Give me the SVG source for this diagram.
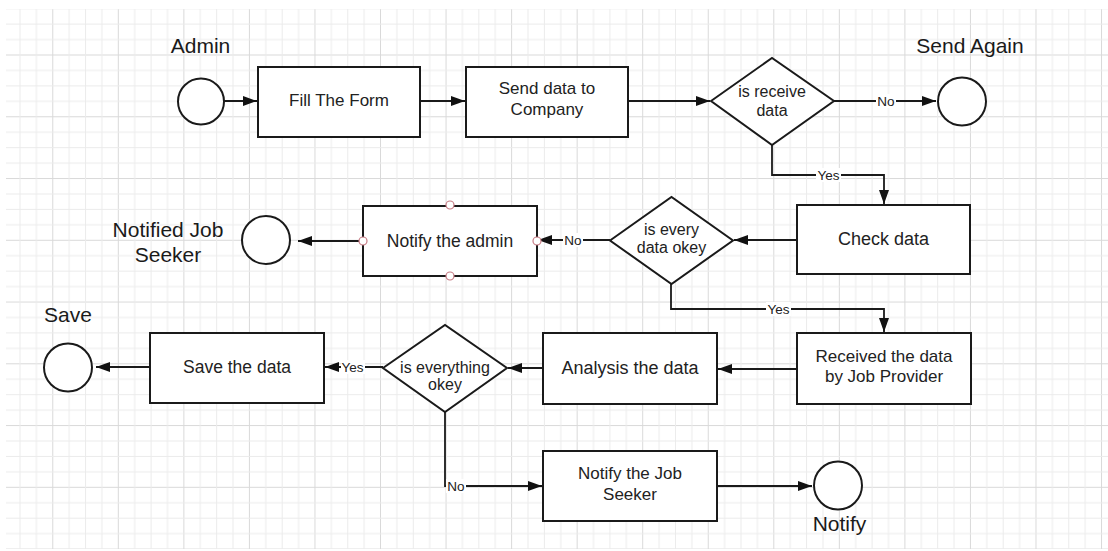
<svg xmlns="http://www.w3.org/2000/svg" width="1108" height="551" viewBox="0 0 1108 551">
<style>
.box{fill:#fff;stroke:#1a1a1a;stroke-width:2}
.dec{fill:#fff;stroke:#1a1a1a;stroke-width:2}
.term{fill:#fff;stroke:#1a1a1a;stroke-width:2}
.conn{fill:none;stroke:#1a1a1a;stroke-width:1.8}
.t{font-family:"Liberation Sans",Arial,sans-serif;font-size:17px;fill:#222;text-anchor:middle}
.d{font-family:"Liberation Sans",Arial,sans-serif;font-size:16px;fill:#222;text-anchor:middle}
.big{font-family:"Liberation Sans",Arial,sans-serif;font-size:21px;fill:#1a1a1a;text-anchor:middle}
.lbl{font-family:"Liberation Sans",Arial,sans-serif;font-size:13.5px;fill:#222;text-anchor:middle}
.lblbg{fill:#fff}
.cp{fill:#fff;stroke:#c77b84;stroke-width:1.2}
</style>
<defs>
<pattern id="grid" patternUnits="userSpaceOnUse" x="52.27" y="54.5" width="65.548" height="61.76">
<rect x="0" y="0" width="1" height="61.76" fill="#d9d9d9"/>
<rect x="0" y="0" width="65.548" height="1" fill="#d9d9d9"/>
<rect x="16.387" y="0" width="1" height="61.76" fill="#ebebeb"/>
<rect x="32.774" y="0" width="1" height="61.76" fill="#ebebeb"/>
<rect x="49.161" y="0" width="1" height="61.76" fill="#ebebeb"/>
<rect x="0" y="15.44" width="65.548" height="1" fill="#ebebeb"/>
<rect x="0" y="30.88" width="65.548" height="1" fill="#ebebeb"/>
<rect x="0" y="46.32" width="65.548" height="1" fill="#ebebeb"/>
</pattern>
<marker id="arr" markerUnits="userSpaceOnUse" markerWidth="15" markerHeight="11" refX="14" refY="5" orient="auto">
<path d="M0,0 L14,5 L0,10 Z" fill="#111"/>
</marker>
</defs>
<rect x="0" y="0" width="1108" height="551" fill="#fff"/>
<rect x="6" y="9" width="1102" height="540" fill="url(#grid)"/>

<g id="connectors">
<path class="conn" d="M224,101 H257" marker-end="url(#arr)"/>
<path class="conn" d="M420,101 H465" marker-end="url(#arr)"/>
<path class="conn" d="M628,101 H710" marker-end="url(#arr)"/>
<path class="conn" d="M834,101 H936" marker-end="url(#arr)"/>
<path class="conn" d="M772,145 V175 H884 V204" marker-end="url(#arr)"/>
<path class="conn" d="M797,240 H734" marker-end="url(#arr)"/>
<path class="conn" d="M610,240 H538" marker-end="url(#arr)"/>
<path class="conn" d="M363,241 H298" marker-end="url(#arr)"/>
<path class="conn" d="M671,284 V309 H884 V332" marker-end="url(#arr)"/>
<path class="conn" d="M797,369 H718" marker-end="url(#arr)"/>
<path class="conn" d="M543,368 H508" marker-end="url(#arr)"/>
<path class="conn" d="M383,367 H325" marker-end="url(#arr)"/>
<path class="conn" d="M150,367 H96" marker-end="url(#arr)"/>
<path class="conn" d="M445,412 V486 H542" marker-end="url(#arr)"/>
<path class="conn" d="M717,486 H812" marker-end="url(#arr)"/>
<rect class="lblbg" x="876" y="94" width="20" height="14"/>
<text class="lbl" x="886" y="106">No</text>
<rect class="lblbg" x="816" y="168" width="25" height="14"/>
<text class="lbl" x="828.5" y="180">Yes</text>
<rect class="lblbg" x="563" y="233" width="20" height="14"/>
<text class="lbl" x="573" y="245">No</text>
<rect class="lblbg" x="766" y="302" width="25" height="14"/>
<text class="lbl" x="778.5" y="314">Yes</text>
<rect class="lblbg" x="341" y="360" width="24" height="14"/>
<text class="lbl" x="352.5" y="372">Yes</text>
<rect class="lblbg" x="446" y="479" width="20" height="14"/>
<text class="lbl" x="456" y="491">No</text>
</g>

<g id="admin-start">
<circle class="term" cx="201" cy="101.5" r="23"/>
<text class="big" x="200.5" y="52.5">Admin</text>
</g>
<g id="fill-form">
<rect class="box" x="258" y="67" width="162" height="70"/>
<text class="t" x="339" y="106">Fill The Form</text>
</g>
<g id="send-data">
<rect class="box" x="466" y="67" width="162" height="70"/>
<text class="t" x="547" y="94">Send data to</text>
<text class="t" x="547" y="114.5">Company</text>
</g>
<g id="is-receive">
<polygon class="dec" points="711,101 772,58 834,101 772,145"/>
<text class="d" x="772" y="97">is receive</text>
<text class="d" x="772" y="115.5">data</text>
</g>
<g id="send-again">
<circle class="term" cx="962" cy="101.5" r="24"/>
<text class="big" x="970" y="53">Send Again</text>
</g>
<g id="check-data">
<rect class="box" x="797" y="205" width="173" height="69"/>
<text class="t" x="883.5" y="244.5" style="font-size:18px">Check data</text>
</g>
<g id="is-every-data">
<polygon class="dec" points="610,240.5 671.5,197 733,240.5 671.5,284"/>
<text class="d" x="671.5" y="235">is every</text>
<text class="d" x="671.5" y="253">data okey</text>
</g>
<g id="notify-admin">
<rect class="box" x="363" y="206" width="174" height="70"/>
<text class="t" x="450" y="246.5" style="font-size:17.5px">Notify the admin</text>
<circle class="cp" cx="450" cy="205" r="4"/>
<circle class="cp" cx="450" cy="276" r="4"/>
<circle class="cp" cx="363" cy="241" r="4"/>
<circle class="cp" cx="537" cy="241" r="4"/>
</g>
<g id="notified-job-seeker">
<circle class="term" cx="266" cy="240" r="24"/>
<text class="big" x="168" y="237">Notified Job</text>
<text class="big" x="168" y="262">Seeker</text>
</g>
<g id="received-data">
<rect class="box" x="797" y="333" width="174" height="71"/>
<text class="t" x="884" y="362">Received the data</text>
<text class="t" x="884" y="382">by Job Provider</text>
</g>
<g id="analysis">
<rect class="box" x="543" y="333" width="174" height="71"/>
<text class="t" x="630" y="374" style="font-size:18px">Analysis the data</text>
</g>
<g id="is-everything">
<polygon class="dec" points="383,368 445,325 507,368 445,412"/>
<text class="d" x="445" y="373">is everything</text>
<text class="d" x="445" y="390">okey</text>
</g>
<g id="save-data">
<rect class="box" x="150" y="333" width="174" height="70"/>
<text class="t" x="237" y="373" style="font-size:17.5px">Save the data</text>
</g>
<g id="save-end">
<circle class="term" cx="68" cy="367.5" r="24"/>
<text class="big" x="68" y="322">Save</text>
</g>
<g id="notify-job-seeker">
<rect class="box" x="543" y="451" width="174" height="70"/>
<text class="t" x="630" y="479">Notify the Job</text>
<text class="t" x="630" y="499.5">Seeker</text>
</g>
<g id="notify-end">
<circle class="term" cx="838" cy="485.5" r="24"/>
<text class="big" x="839.5" y="531">Notify</text>
</g>
</svg>
